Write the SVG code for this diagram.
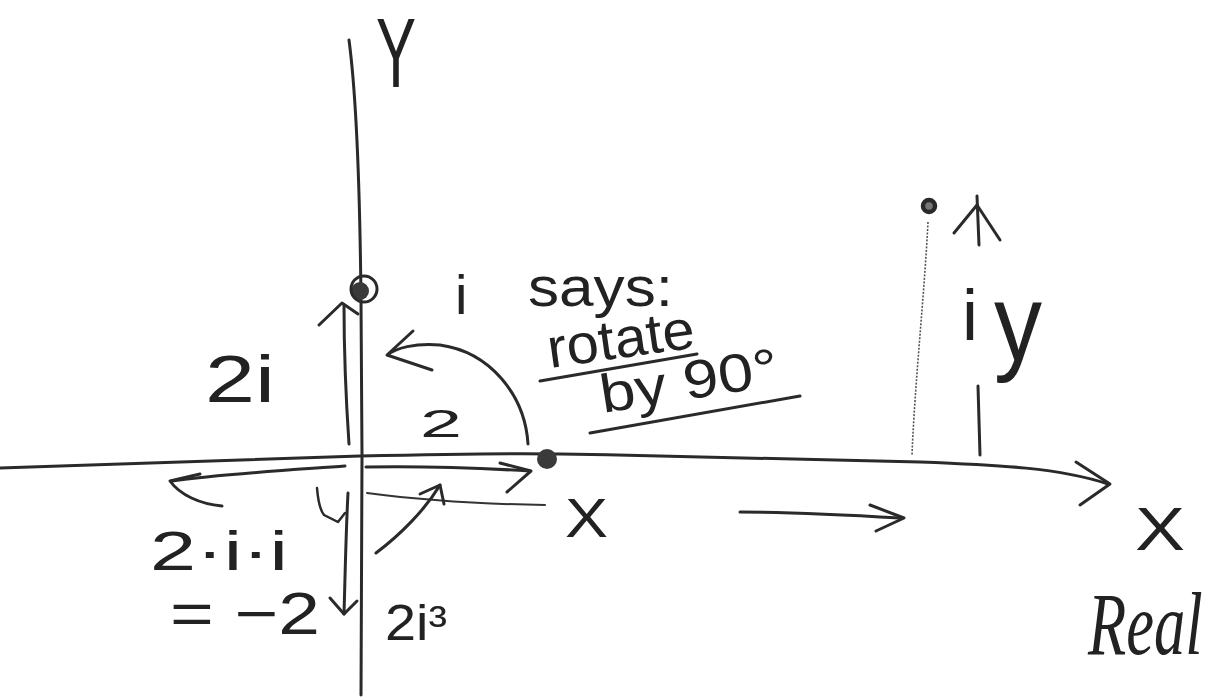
<svg xmlns="http://www.w3.org/2000/svg" width="1223" height="698" viewBox="0 0 1223 698">
<style>
.ln{fill:none;stroke:#2a2a2a;stroke-width:3;stroke-linecap:round;stroke-linejoin:round}
.thin{fill:none;stroke:#333;stroke-width:2;stroke-linecap:round}
.dot{fill:#3a3a3a}
.t{font-family:"Liberation Sans",Arial,sans-serif;fill:#222}
.c{font-family:"Liberation Serif",serif;font-style:italic;fill:#222}
</style>
<rect width="1223" height="698" fill="#fff"/>
<g id="axes">
<path class="ln" d="M349,40 C357,100 360,200 361,300 L362,456 L361,695"/>
<path class="ln" d="M0,468 C150,463 300,458 360,456 C450,454 520,453 560,454 C700,456 850,460 920,462 C1000,465 1060,468 1108,484"/>
<path class="ln" d="M1076,462 L1110,484 L1080,505"/>
</g>
<g id="points">
<circle class="dot" cx="360" cy="291" r="9"/>
<circle cx="364" cy="289" r="13" fill="none" stroke="#2a2a2a" stroke-width="3"/>
<circle class="dot" cx="547" cy="459" r="10"/>
<circle cx="929" cy="206" r="6" fill="#777" stroke="#2a2a2a" stroke-width="4.5"/>
<path d="M928,222 C924,300 915,380 912,455" fill="none" stroke="#555" stroke-width="1.6" stroke-dasharray="2 1.5"/>
</g>
<g id="connectors">
<path class="ln" d="M349,444 C346,400 344,340 344,305"/>
<path class="ln" d="M319,325 L342,303 L358,314"/>
<path class="ln" d="M528,444 C525,395 490,352 440,345 C415,343 395,348 388,355"/>
<path class="ln" d="M413,331 L387,355 L432,370"/>
<path class="ln" d="M366,467 C420,466 480,468 530,471"/>
<path class="ln" d="M500,463 L531,471 L507,492"/>
<path class="ln" d="M345,466 C290,470 220,474 172,481"/>
<path class="ln" d="M200,474 L170,481 C180,495 200,504 222,506"/>
<path class="ln" d="M348,493 C346,530 345,580 344,614"/>
<path class="ln" d="M330,598 L344,614 L357,601"/>
<path class="ln" d="M317,488 C318,500 320,510 324,515 L338,522 L345,513" style="stroke-width:2.5"/>
<path class="thin" d="M367,493 C420,500 480,504 545,505"/>
<path class="ln" d="M376,553 C400,535 425,510 440,485"/>
<path class="ln" d="M420,494 L440,485 L444,504"/>
<path class="ln" d="M740,512 C790,512 850,515 900,518"/>
<path class="ln" d="M870,505 L904,518 L876,531"/>
<path class="ln" d="M978,386 L980,455"/>
<path class="ln" d="M977,196 L979,245"/>
<path class="ln" d="M954,233 L977,205 L1000,240"/>
<path class="ln" d="M540,381 L697,354"/>
<path class="ln" d="M590,433 L800,396"/>
</g>
<g id="labels">
<text class="t" x="376" y="87" font-size="98" textLength="40" lengthAdjust="spacingAndGlyphs">Y</text>
<text class="t" x="205" y="402" font-size="66" textLength="70" lengthAdjust="spacingAndGlyphs">2i</text>
<text class="t" x="420" y="437" font-size="38" textLength="42" lengthAdjust="spacingAndGlyphs">2</text>
<text class="t" x="455" y="314" font-size="56">i</text>
<text class="t" x="528" y="306" font-size="56" textLength="145" lengthAdjust="spacingAndGlyphs">says:</text>
<text class="t" x="550" y="368" font-size="56" textLength="148" lengthAdjust="spacingAndGlyphs" transform="rotate(-8 550 368)">rotate</text>
<text class="t" x="603" y="413" font-size="54" textLength="180" lengthAdjust="spacingAndGlyphs" transform="rotate(-9 603 413)">by 90°</text>
<text class="t" x="565" y="537" font-size="55" textLength="43" lengthAdjust="spacingAndGlyphs">X</text>
<text class="t" x="1135" y="550" font-size="62" textLength="50" lengthAdjust="spacingAndGlyphs">X</text>
<text class="c" x="0" y="0" font-size="68" transform="translate(1088 654) scale(0.92 1.3)">Real</text>
<text class="t" x="962" y="340" font-size="72">i</text>
<text class="t" x="994" y="360" font-size="110" textLength="48" lengthAdjust="spacingAndGlyphs">y</text>
<text class="t" x="150" y="570" font-size="56" textLength="138" lengthAdjust="spacingAndGlyphs">2·i·i</text>
<text class="t" x="170" y="634" font-size="60" textLength="150" lengthAdjust="spacingAndGlyphs">= −2</text>
<text class="t" x="385" y="640" font-size="50" textLength="62" lengthAdjust="spacingAndGlyphs">2i³</text>
</g>
</svg>
